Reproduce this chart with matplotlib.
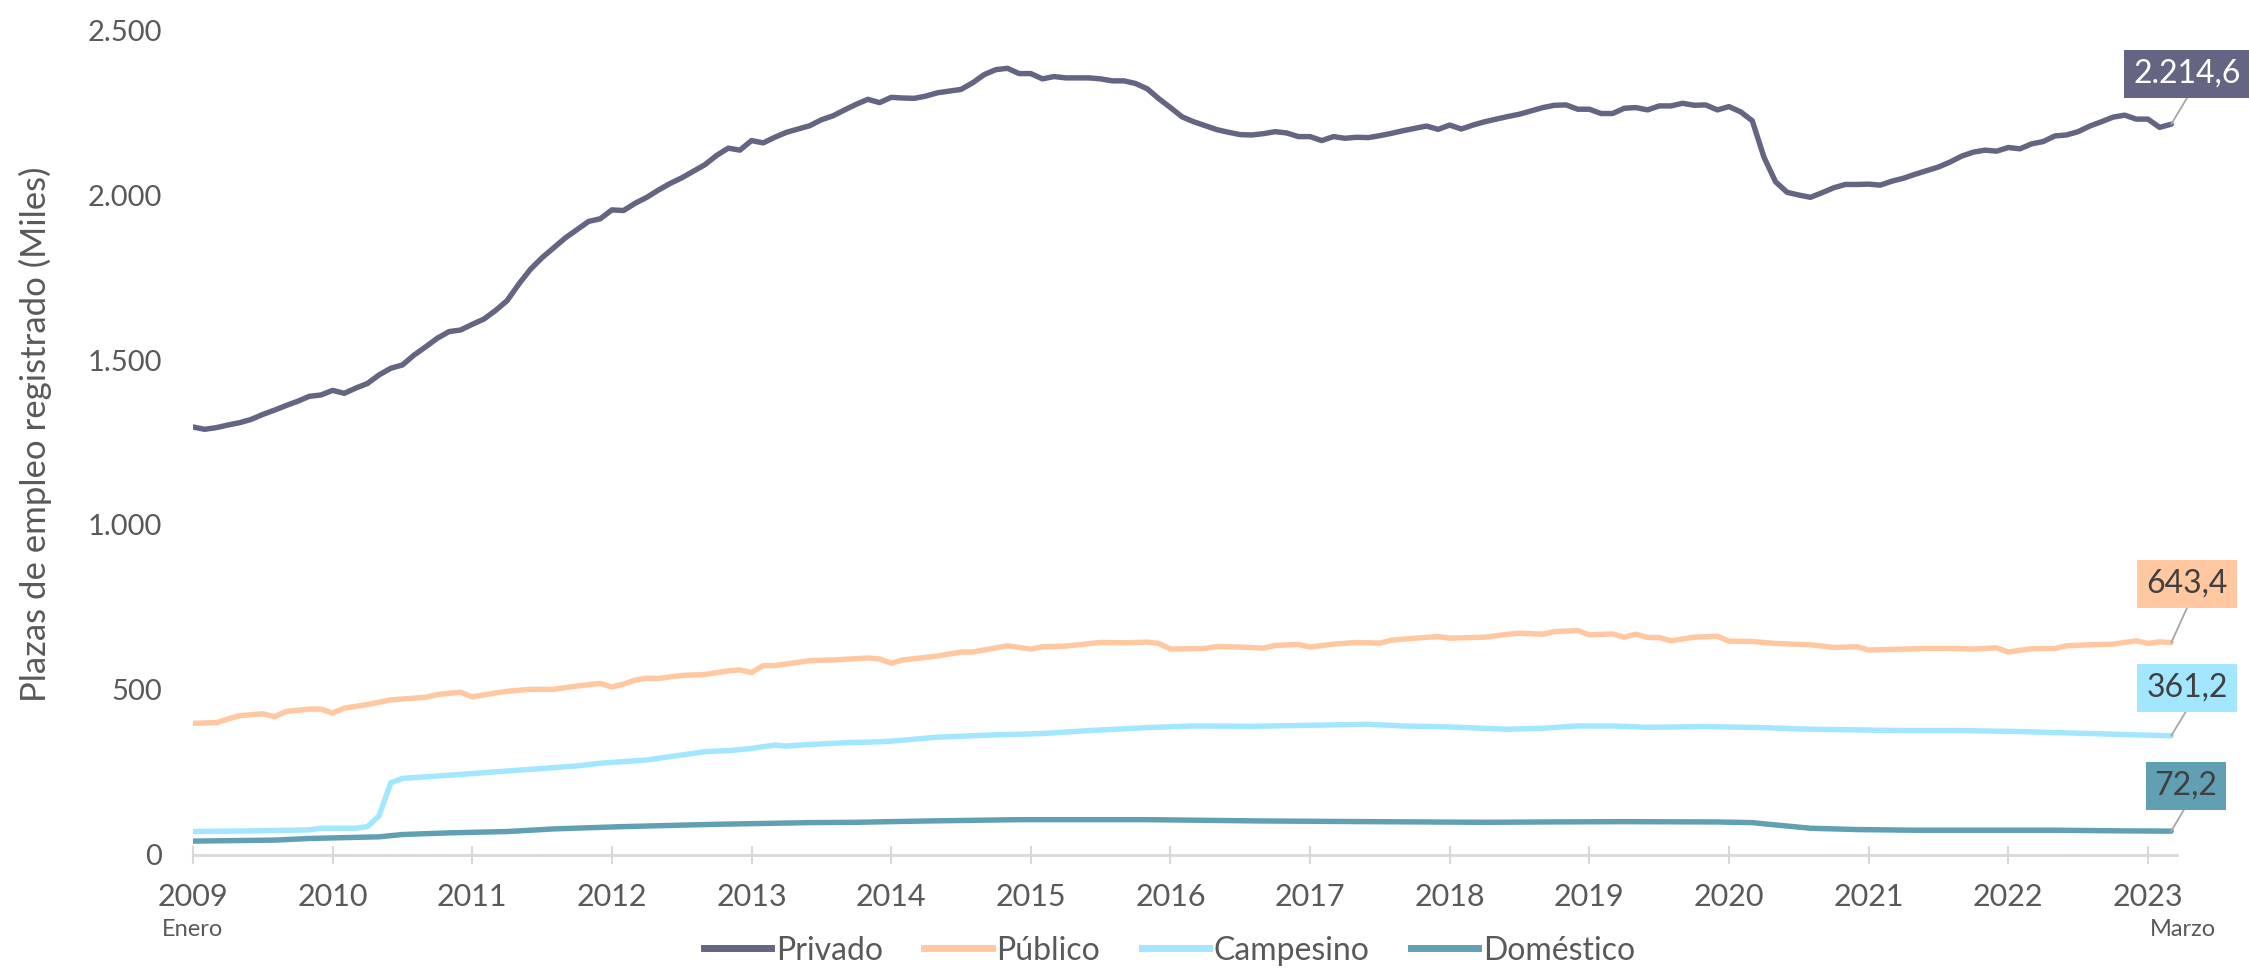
import matplotlib
matplotlib.use("Agg")
import matplotlib.pyplot as plt
from matplotlib.lines import Line2D

plt.rcParams['font.family'] = ['Lato', 'DejaVu Sans']

# Empleo registrado por sector (miles de plazas), mensual ene-2009 .. mar-2023
# indice de mes: 0 = enero 2009
anios = ['2009', '2010', '2011', '2012', '2013', '2014', '2015', '2016',
         '2017', '2018', '2019', '2020', '2021', '2022', '2023']

privado = [
    1297, 1290, 1295, 1303, 1310, 1320, 1335, 1348, 1362, 1375, 1390, 1394,
    1408, 1399, 1415, 1429, 1455, 1475, 1485, 1515, 1540, 1566, 1586, 1591,
    1608, 1624, 1650, 1680, 1730, 1775, 1810, 1840, 1870, 1895, 1920, 1928,
    1955, 1953, 1975, 1993, 2015, 2035, 2052, 2072, 2092, 2120, 2142, 2136,
    2165, 2158, 2175, 2190, 2200, 2210, 2228, 2240, 2258, 2275, 2290, 2280,
    2296, 2294, 2293, 2300, 2310, 2315, 2320, 2340, 2365, 2380, 2384, 2368,
    2368, 2352, 2359, 2355, 2355, 2355, 2352, 2346, 2346, 2338, 2322, 2292,
    2265, 2237, 2222, 2210, 2198, 2190, 2183, 2182, 2186, 2192, 2188, 2177,
    2177, 2165, 2177, 2172, 2175, 2174, 2180, 2187, 2195, 2202, 2209, 2199,
    2212, 2200, 2212, 2222, 2230, 2238, 2245, 2255, 2265, 2272, 2273, 2260,
    2260, 2247, 2247, 2263, 2265, 2258, 2270, 2270, 2278, 2272, 2273, 2258,
    2268, 2252, 2225, 2115, 2040, 2008, 2000, 1993, 2007, 2022, 2032, 2032,
    2033, 2030, 2042, 2051, 2063, 2074, 2085, 2100, 2118, 2130, 2136, 2133,
    2144, 2140, 2155, 2162, 2179, 2182, 2192, 2209, 2222, 2236, 2242, 2230,
    2230, 2205, 2214.6]
privado_mes = list(range(len(privado)))

publico_mes = [0, 2, 3, 4, 6, 7, 8, 10, 11, 12, 13, 15, 17, 20, 21, 22, 23, 24,
               26, 27, 29, 31, 33, 35, 36, 37, 38, 39, 40, 42, 44, 46, 47, 48,
               49, 50, 53, 55, 58, 59, 60, 61, 64, 66, 67, 70, 72, 73, 75, 78,
               80, 82, 83, 84, 87, 88, 90, 92, 93, 95, 96, 98, 100, 102, 103,
               105, 107, 108, 111, 113, 114, 116, 117, 119, 120, 122, 123, 124,
               125, 126, 127, 129, 131, 132, 134, 136, 139, 141, 143, 144, 146,
               149, 151, 153, 155, 156, 158, 160, 161, 163, 165, 167, 168, 169,
               170]
publico = [399, 401, 412, 422, 428, 419, 435, 442, 442, 430, 445, 456, 470,
           478, 486, 490, 493, 479, 491, 496, 502, 502, 512, 520, 509, 518,
           530, 536, 535, 544, 547, 558, 561, 553, 574, 574, 589, 591, 597,
           594, 581, 591, 603, 615, 615, 634, 624, 631, 633, 644, 643, 645,
           641, 624, 626, 632, 630, 627, 635, 638, 630, 639, 644, 642, 651,
           657, 662, 657, 660, 669, 672, 669, 677, 680, 667, 670, 660, 669,
           659, 659, 649, 660, 663, 648, 647, 641, 637, 629, 631, 621, 623,
           626, 626, 624, 628, 615, 625, 626, 634, 637, 639, 649, 641, 646,
           643.4]

campesino_mes = [0, 5, 10, 11, 14, 15, 16, 17, 18, 20, 23, 26, 30, 33, 35, 39,
                 41, 44, 46, 48, 50, 51, 53, 56, 59, 60, 64, 69, 73, 77, 82,
                 86, 91, 96, 101, 104, 108, 113, 116, 119, 122, 125, 130, 135,
                 138, 143, 147, 152, 157, 162, 167, 170]
campesino = [71, 73, 76, 81, 81, 86, 119, 219, 232, 237, 244, 252, 262, 270,
             278, 288, 298, 313, 316, 323, 333, 330, 335, 340, 343, 345, 357,
             364, 368, 377, 386, 391, 390, 393, 396, 391, 388, 381, 384, 391,
             391, 387, 389, 386, 382, 379, 377, 377, 374, 369, 364, 361.2]

domestico_mes = [0, 7, 10, 16, 18, 22, 27, 31, 37, 45, 53, 57, 63, 71, 82, 92,
                 101, 111, 116, 123, 131, 134, 136, 139, 143, 148, 154, 160,
                 166, 170]
domestico = [42, 45, 50, 55, 62, 67, 71, 79, 86, 93, 98, 99, 103, 107, 107,
             103, 101, 99, 100, 101, 100, 98, 91, 81, 77, 75, 75, 75, 73, 72.2]

series = [
    ('Privado', privado_mes, privado, '#646483', 'white'),
    ('Público', publico_mes, publico, '#FFC8A1', '#404040'),
    ('Campesino', campesino_mes, campesino, '#A2E6FF', '#404040'),
    ('Doméstico', domestico_mes, domestico, '#619FB3', '#404040'),
]

fig = plt.figure(figsize=(22.49, 9.72), dpi=100)
ax = fig.add_axes([0.0858, 0.1204, 0.8822, 0.8487])

gray = '#595959'
for nombre, mes, val, color, _ in series:
    ax.plot(mes, val, color=color, lw=3.9, solid_capstyle='round',
            solid_joinstyle='round', label=nombre)

ax.set_xlim(0, 170.5)
ax.set_ylim(0, 2500)
ax.set_yticks([0, 500, 1000, 1500, 2000, 2500])
ax.set_yticklabels(['0', '500', '1.000', '1.500', '2.000', '2.500'])
ax.set_xticks([12 * i for i in range(len(anios))])
ax.set_xticklabels(anios)

for s in ['top', 'right', 'left']:
    ax.spines[s].set_visible(False)
ax.spines['bottom'].set_color('#D9D9D9')
ax.spines['bottom'].set_linewidth(2)
ax.tick_params(axis='y', length=0, pad=22, labelsize=21, labelcolor=gray)
ax.tick_params(axis='x', direction='inout', length=13, width=1.5,
               color='#D9D9D9', pad=14, labelsize=22, labelcolor=gray)

ax.set_ylabel('Plazas de empleo registrado (Miles)', fontsize=25, color=gray)
ax.yaxis.set_label_coords(-0.071, 0.51)

fig.text(192 / 2249, 1 - 929 / 972, 'Enero', fontsize=17, color=gray,
         ha='center', va='center')
fig.text(2183 / 2249, 1 - 929 / 972, 'Marzo', fontsize=17, color=gray,
         ha='center', va='center')

# etiquetas del ultimo valor
cajas = [(2187, 898), (2187, 388), (2187, 284), (2186, 186)]
for (nombre, mes, val, color, tcol), (bx, by) in zip(series, cajas):
    txt = f"{val[-1]:,.1f}".replace(',', 'X').replace('.', ',').replace('X', '.')
    ax.annotate(txt, xy=(mes[-1], val[-1]), xycoords='data',
                xytext=(bx, by), textcoords='figure pixels',
                ha='center', va='center', fontsize=23, color=tcol,
                bbox=dict(boxstyle='square,pad=0.28', fc=color, ec='none'),
                arrowprops=dict(arrowstyle='-', color='#A6A6A6', lw=1.3,
                                shrinkA=0, shrinkB=0, relpos=(0.55, 0)),
                annotation_clip=False)

handles = [Line2D([], [], color=c, lw=5) for _, _, _, c, _ in series]
fig.legend(handles, [s[0] for s in series], loc='center',
           bbox_to_anchor=(0.52, 0.022), ncol=4, frameon=False, fontsize=23,
           handlelength=2.1, handletextpad=0.15, columnspacing=1.3,
           labelcolor=gray)

fig.savefig('out.png', dpi=100)
